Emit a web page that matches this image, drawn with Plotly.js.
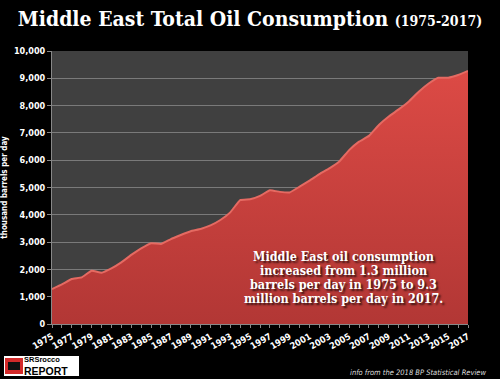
<!DOCTYPE html>
<html>
<head>
<meta charset="utf-8">
<script src="https://cdn.plot.ly/plotly-3.0.1.min.js"></script>
<style>html,body{margin:0;padding:0;background:#000;}#chart{width:500px;height:379px;}</style>
</head>
<body>
<div id="chart"></div>
<script>
const years = [1975,1976,1977,1978,1979,1980,1981,1982,1983,1984,1985,1986,1987,1988,1989,1990,1991,1992,1993,1994,1995,1996,1997,1998,1999,2000,2001,2002,2003,2004,2005,2006,2007,2008,2009,2010,2011,2012,2013,2014,2015,2016,2017];
const consumption = [1280,1450,1650,1710,1950,1880,2040,2260,2530,2770,2960,2930,3110,3260,3400,3480,3610,3810,4090,4540,4570,4690,4900,4840,4820,5030,5250,5490,5700,5950,6370,6680,6890,7290,7600,7860,8140,8500,8800,9020,9020,9120,9270];
const tickYears = [1975,1977,1979,1981,1983,1985,1987,1989,1991,1993,1995,1997,1999,2001,2003,2005,2007,2009,2011,2013,2015,2017];
const yTicks = [0,1000,2000,3000,4000,5000,6000,7000,8000,9000,10000];
const noteLines = ['Middle East oil consumption', 'increased from 1.3 million', 'barrels per day in 1975 to 9.3', 'million barrels per day in 2017.'];

const trace = {
  x: years, y: consumption, type: 'scatter', mode: 'lines',
  fill: 'tozeroy',
  fillgradient: {type: 'vertical', colorscale: [[0, '#b23735'], [1, '#dc4a45']]},
  line: {color: '#e56a62', width: 2, shape: 'spline', smoothing: 0.3},
  hoverinfo: 'skip'
};

const plotTop = 51, plotH = 273, plotL = 52, plotW = 416;
const px = v => (v - plotL) / plotW;
const py = v => (plotTop + plotH - v) / plotH;

const annotations = noteLines.map((t, i) => ({
  xref: 'paper', yref: 'paper', x: px(343), y: py(256 + i * 14), xanchor: 'center', yanchor: 'middle',
  showarrow: false, align: 'center', text: t,
  font: {family: 'DejaVu Serif Condensed, DejaVu Serif', size: 12.5, color: '#ffffff', weight: 'bold',
         shadow: '2px 2px 2px rgba(0,0,0,0.7)'}
}));

annotations.push(
  {
    xref: 'paper', yref: 'paper', x: px(488), y: py(372), xanchor: 'right', yanchor: 'middle',
    showarrow: false, align: 'right',
    text: '<i>info from the 2018 BP Statistical Review</i>',
    font: {family: 'DejaVu Sans Condensed, DejaVu Sans', size: 7.5, color: '#dddddd'}
  },
  {
    xref: 'paper', yref: 'paper', x: px(23), y: py(359.5), xanchor: 'left', yanchor: 'middle',
    showarrow: false, align: 'left', borderpad: 0,
    text: '<b>SRSrocco</b>',
    font: {family: 'Liberation Sans, Arial', size: 7.5, color: '#000000'}
  },
  {
    xref: 'paper', yref: 'paper', x: px(23), y: py(371), xanchor: 'left', yanchor: 'middle',
    showarrow: false, align: 'left', borderpad: 0,
    text: '<b>REPORT</b>',
    font: {family: 'Liberation Sans, Arial', size: 10.5, color: '#000000'}
  }
);

const layout = {
  width: 500, height: 379,
  paper_bgcolor: '#000000', plot_bgcolor: '#404040',
  margin: {l: plotL, r: 500 - plotL - plotW, t: plotTop, b: 379 - plotTop - plotH},
  showlegend: false,
  title: {
    text: 'Middle East Total Oil Consumption <span style="font-size:14px">(1975-2017)</span>',
    x: 0.5, xanchor: 'center', y: 0.95, yanchor: 'middle',
    font: {family: 'DejaVu Serif Condensed, DejaVu Serif', size: 21, color: '#ffffff', weight: 'bold'}
  },
  xaxis: {
    range: [1975, 2017], tickmode: 'array', tickvals: tickYears, ticktext: tickYears.map(String),
    tickangle: -30, showgrid: false, zeroline: false,
    ticks: 'outside', ticklen: 3, tickcolor: '#888888',
    minor: {tickmode: 'array', tickvals: years, ticks: 'outside', ticklen: 3, tickcolor: '#888888'},
    showline: true, linecolor: '#888888', linewidth: 1,
    tickfont: {family: 'DejaVu Sans Condensed, DejaVu Sans', size: 9, color: '#ffffff', weight: 'bold'}
  },
  yaxis: {
    range: [0, 10000], tickmode: 'array', tickvals: yTicks,
    ticktext: yTicks.map(v => v.toLocaleString('en-US')),
    showgrid: true, gridcolor: '#7a7a7a', gridwidth: 1, zeroline: false,
    ticks: 'outside', ticklen: 4, tickcolor: '#888888',
    showline: true, linecolor: '#888888', linewidth: 1,
    tickfont: {family: 'DejaVu Sans Condensed, DejaVu Sans', size: 9, color: '#ffffff', weight: 'bold'},
    title: {text: 'thousand barrels per day', standoff: 6,
      font: {family: 'DejaVu Sans Condensed, DejaVu Sans', size: 8, color: '#ffffff', weight: 'bold'}}
  },
  annotations: annotations,
  shapes: [
    {type: 'rect', xref: 'paper', yref: 'paper', x0: px(4), x1: px(79), y0: py(376), y1: py(356),
     fillcolor: '#ffffff', line: {width: 0}, layer: 'above'},
    {type: 'rect', xref: 'paper', yref: 'paper', x0: px(5), x1: px(23), y0: py(374), y1: py(358),
     fillcolor: '#d42a2a', line: {width: 0}, layer: 'above'},
    {type: 'rect', xref: 'paper', yref: 'paper', x0: px(8), x1: px(20), y0: py(370), y1: py(362),
     fillcolor: '#111111', line: {width: 0}, layer: 'above'}
  ]
};

Plotly.newPlot('chart', [trace], layout, {displayModeBar: false, staticPlot: true});
</script>
</body>
</html>
